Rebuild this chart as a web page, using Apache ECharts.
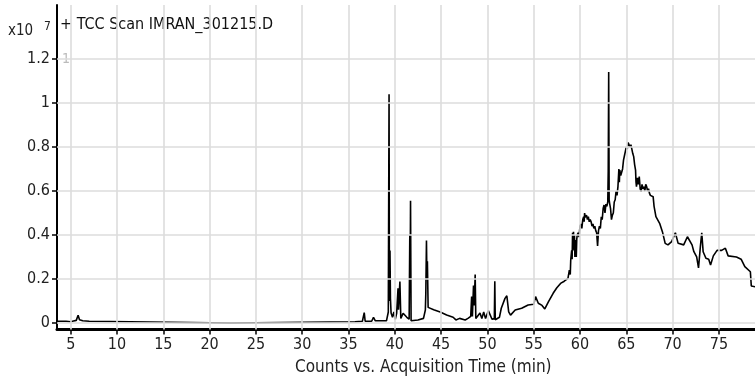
<!DOCTYPE html>
<html>
<head>
<meta charset="utf-8">
<script src="https://cdn.jsdelivr.net/npm/echarts@6/dist/echarts.min.js"></script>
<style>
html,body{margin:0;padding:0;background:#fff;}
#chart{width:755px;height:380px;}
</style>
</head>
<body>
<div id="chart"></div>
<script>
// Acquisition time (min)
const times = [
 3.55, 4.5, 5.0, 5.3, 5.6, 5.8, 5.95, 6.3, 7.0, 7.05, 22.3, 22.35, 35.7, 36.5, 36.7, 36.8, 37.5, 37.7, 37.9, 39.1,
 39.3, 39.38, 39.42, 39.48, 39.53, 39.6, 39.75, 39.9, 40.05, 40.2, 40.35, 40.4, 40.55, 40.65, 40.9, 41.3, 41.55, 41.62, 41.66, 41.7,
 41.76, 42.5, 43.1, 43.3, 43.35, 43.42, 43.47, 43.52, 43.6, 44.2, 44.9, 45.6, 46.3, 46.6, 47.0, 47.6, 47.9, 48.2, 48.3, 48.38,
 48.5, 48.58, 48.68, 48.75, 48.9, 49.2, 49.4, 49.6, 49.8, 50.1, 50.5, 50.75, 50.8, 50.85, 51.0, 51.3, 51.5, 51.9, 52.1, 52.3,
 52.5, 53.0, 53.7, 54.4, 55.0, 55.2, 55.5, 55.9, 56.2, 56.6, 57.1, 57.5, 57.9, 58.3, 58.7,
 58.85, 58.95, 59.0, 59.1, 59.15, 59.2, 59.25, 59.3, 59.35, 59.4, 59.45, 59.5, 59.55, 59.6, 59.65, 59.7, 59.8, 59.9, 60.0, 60.1,
 60.2, 60.3, 60.4, 60.45, 60.5, 60.55, 60.7, 60.8, 60.9, 61.0, 61.1, 61.2, 61.3, 61.4, 61.5, 61.6, 61.7, 61.8, 61.85, 61.9,
 62.0, 62.1, 62.2, 62.3, 62.4, 62.5, 62.6, 62.7, 62.8, 62.9, 63.0, 63.05, 63.1, 63.15, 63.2, 63.3, 63.4, 63.5, 63.6, 63.7,
 63.8, 63.9, 64.0, 64.1, 64.15, 64.2, 64.25, 64.3, 64.4, 64.5, 64.6, 64.7, 64.8, 64.9, 65.0, 65.1, 65.2, 65.3, 65.4, 65.5,
 65.6, 65.7, 65.8, 65.9, 66.0, 66.05, 66.1, 66.2, 66.3, 66.4, 66.5, 66.6, 66.7, 66.8, 66.9, 67.0, 67.1, 67.2, 67.3, 67.4,
 67.5, 67.6, 67.9, 68.0, 68.2, 68.6, 68.9, 69.2, 69.5, 69.9, 70.3, 70.6, 71.2, 71.6, 72.1, 72.3, 72.6, 72.8, 73.0, 73.15,
 73.3, 73.6, 73.9, 74.1, 74.4, 74.8, 75.3, 75.7, 76.0, 76.9, 77.4, 77.8, 78.4, 78.5, 79.0
];
// Counts (x10^7)
const counts = [
 0.008, 0.008, 0.006, 0.009, 0.012, 0.035, 0.015, 0.01, 0.008, 0.0, 0.0, 0.004, 0.006, 0.008, 0.047, 0.008, 0.008, 0.026, 0.01, 0.01,
 0.05, 1.04, 0.1, 0.33, 0.11, 0.045, 0.026, 0.05, 0.017, 0.044, 0.158, 0.06, 0.188, 0.021, 0.044, 0.026, 0.017, 0.40, 0.2, 0.555,
 0.01, 0.014, 0.021, 0.059, 0.135, 0.375, 0.2, 0.28, 0.071, 0.06, 0.05, 0.036, 0.026, 0.014, 0.021, 0.014, 0.021, 0.03, 0.12, 0.03,
 0.17, 0.08, 0.22, 0.02, 0.02, 0.045, 0.02, 0.05, 0.02, 0.056, 0.017, 0.02, 0.19, 0.015, 0.014, 0.026, 0.067, 0.112, 0.124, 0.051,
 0.036, 0.059, 0.067, 0.082, 0.085, 0.12, 0.09, 0.08, 0.064, 0.097, 0.135, 0.16, 0.18, 0.19, 0.203,
 0.24, 0.22, 0.286, 0.33, 0.29, 0.41, 0.36, 0.415, 0.33, 0.40, 0.30, 0.377, 0.32, 0.30, 0.38, 0.40, 0.41, 0.39, 0.44, 0.45,
 0.43, 0.47, 0.483, 0.46, 0.50, 0.48, 0.49, 0.47, 0.483, 0.46, 0.47, 0.46, 0.44, 0.45, 0.43, 0.44, 0.42, 0.41, 0.38, 0.35,
 0.42, 0.44, 0.43, 0.483, 0.47, 0.52, 0.536, 0.50, 0.54, 0.53, 0.55, 0.69, 1.14, 0.56, 0.544, 0.52, 0.47, 0.49, 0.50, 0.55,
 0.56, 0.60, 0.58, 0.62, 0.66, 0.70, 0.64, 0.695, 0.67, 0.665, 0.70, 0.74, 0.76, 0.78, 0.80, 0.79, 0.82, 0.824, 0.80, 0.81,
 0.79, 0.77, 0.756, 0.72, 0.695, 0.64, 0.62, 0.66, 0.63, 0.665, 0.61, 0.597, 0.63, 0.61, 0.62, 0.60, 0.63, 0.62, 0.60, 0.61,
 0.59, 0.58, 0.574, 0.53, 0.483, 0.453, 0.415, 0.362, 0.355, 0.37, 0.41, 0.362, 0.355, 0.392, 0.355, 0.324, 0.30, 0.25, 0.347, 0.41,
 0.324, 0.294, 0.29, 0.264, 0.305, 0.33, 0.33, 0.34, 0.305, 0.30, 0.29, 0.256, 0.233, 0.168, 0.164
];
const xTickValues = [5, 10, 15, 20, 25, 30, 35, 40, 45, 50, 55, 60, 65, 70, 75];
const yTickValues = [0, 0.2, 0.4, 0.6, 0.8, 1.0, 1.2];
const yTickLabels = ['0', '0.2', '0.4', '0.6', '0.8', '1', '1.2'];
const titleText = '+ TCC Scan IMRAN_301215.D';
const xAxisTitle = 'Counts vs. Acquisition Time (min)';

const FONT = '"Liberation Sans Narrow", "DejaVu Sans Condensed", "Roboto", sans-serif';
const chart = echarts.init(document.getElementById('chart'), null, {renderer: 'canvas'});
const gridColor = '#dcdcdc';

const series = [
  {
    type: 'line', name: 'grid', data: [], z: 1, silent: true,
    markLine: {
      silent: true, symbol: ['none', 'none'], animation: false,
      label: {show: false},
      lineStyle: {color: gridColor, width: 1.6, type: 'solid'},
      emphasis: {disabled: true},
      data: xTickValues.map(v => ({xAxis: v})).concat(yTickValues.map(v => ({yAxis: v})))
    }
  },
  {
    type: 'line', name: 'TIC', z: 3,
    data: times.map((t, i) => [t, counts[i]]),
    showSymbol: false, symbol: 'none', smooth: false, animation: false,
    lineStyle: {color: '#000', width: 1.6}
  }
];

chart.setOption({
  animation: false,
  backgroundColor: '#fff',
  grid: {left: 57, right: 0, top: 5, bottom: 50.5, containLabel: false},
  xAxis: {
    type: 'value', min: 3.52, max: 78.9,
    axisLine: {show: true, onZero: false, lineStyle: {color: '#000', width: 3}},
    axisTick: {show: true, customValues: xTickValues, length: 5, lineStyle: {color: '#000', width: 1.5}},
    axisLabel: {customValues: xTickValues, fontFamily: FONT, fontSize: 16, color: '#222', margin: 7},
    splitLine: {show: false}
  },
  yAxis: {
    type: 'value', min: -0.0295, max: 1.445,
    axisLine: {show: true, onZero: false, lineStyle: {color: '#000', width: 2}},
    axisTick: {show: true, customValues: yTickValues, length: 5, lineStyle: {color: '#000', width: 1.5}},
    axisLabel: {customValues: yTickValues, fontFamily: FONT, fontSize: 16, color: '#222', margin: 7,
      formatter: v => yTickLabels[yTickValues.findIndex(t => Math.abs(t - v) < 1e-6)] ?? String(v)},
    splitLine: {show: false}
  },
  graphic: [
    {type: 'text', left: 60, top: 17, style: {text: titleText, font: '16px ' + FONT, fill: '#111'}},
    {type: 'text', left: 8, top: 24, style: {text: 'x10', font: '15px ' + FONT, fill: '#222'}},
    {type: 'text', left: 44, top: 21, style: {text: '7', font: '12px ' + FONT, fill: '#222'}},
    {type: 'text', left: 62, top: 52, style: {text: '1', font: '14px ' + FONT, fill: '#bbb'}},
    {type: 'text', left: 295, top: 359, style: {text: xAxisTitle, font: '17px ' + FONT, fill: '#222'}}
  ],
  series: series
});
</script>
</body>
</html>
